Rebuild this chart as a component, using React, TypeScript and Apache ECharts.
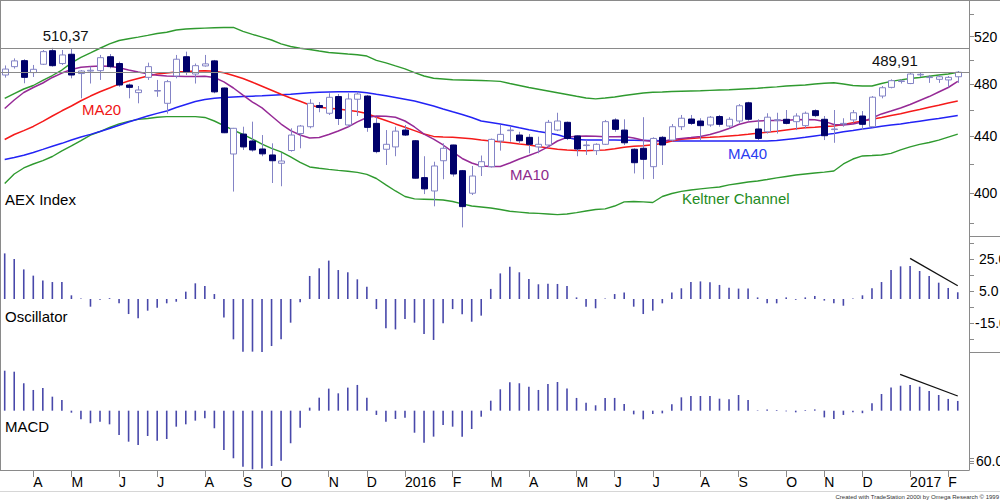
import React, { useEffect, useRef } from "react";
import * as echarts from "echarts";

// Weekly bars (Friday dates)
const weeks = [
  "2015-03-13", "2015-03-20", "2015-03-27", "2015-04-03", "2015-04-10", "2015-04-17", "2015-04-24",
  "2015-05-01", "2015-05-08", "2015-05-15", "2015-05-22", "2015-05-29", "2015-06-05", "2015-06-12",
  "2015-06-19", "2015-06-26", "2015-07-03", "2015-07-10", "2015-07-17", "2015-07-24", "2015-07-31",
  "2015-08-07", "2015-08-14", "2015-08-21", "2015-08-28", "2015-09-04", "2015-09-11", "2015-09-18",
  "2015-09-25", "2015-10-02", "2015-10-09", "2015-10-16", "2015-10-23", "2015-10-30", "2015-11-06",
  "2015-11-13", "2015-11-20", "2015-11-27", "2015-12-04", "2015-12-11", "2015-12-18", "2015-12-25",
  "2016-01-01", "2016-01-08", "2016-01-15", "2016-01-22", "2016-01-29", "2016-02-05", "2016-02-12",
  "2016-02-19", "2016-02-26", "2016-03-04", "2016-03-11", "2016-03-18", "2016-03-25", "2016-04-01",
  "2016-04-08", "2016-04-15", "2016-04-22", "2016-04-29", "2016-05-06", "2016-05-13", "2016-05-20",
  "2016-05-27", "2016-06-03", "2016-06-10", "2016-06-17", "2016-06-24", "2016-07-01", "2016-07-08",
  "2016-07-15", "2016-07-22", "2016-07-29", "2016-08-05", "2016-08-12", "2016-08-19", "2016-08-26",
  "2016-09-02", "2016-09-09", "2016-09-16", "2016-09-23", "2016-09-30", "2016-10-07", "2016-10-14",
  "2016-10-21", "2016-10-28", "2016-11-04", "2016-11-11", "2016-11-18", "2016-11-25", "2016-12-02",
  "2016-12-09", "2016-12-16", "2016-12-23", "2016-12-30", "2017-01-06", "2017-01-13", "2017-01-20",
  "2017-01-27", "2017-02-03", "2017-02-10",
];

// AEX weekly candles: [open, close, low, high]
const ohlc: [number, number, number, number][] = [
  [487.6, 492.5, 485.5, 495.5], [494.5, 499.3, 492.9, 501.4], [499.5, 485.7, 480.9, 500.7], [489.6, 492.3, 486.0, 495.9],
  [496.5, 507.1, 495.9, 508.5], [507.9, 495.3, 494.5, 510.37], [497.1, 504.3, 495.9, 508.5], [504.9, 487.6, 484.9, 509.9],
  [488.8, 490.9, 468.9, 491.7], [490.9, 491.5, 480.7, 494.5], [491.2, 502.0, 483.6, 504.3], [502.8, 494.5, 493.1, 505.1],
  [497.1, 479.5, 478.1, 498.7], [479.5, 477.6, 468.9, 480.7], [473.4, 475.5, 465.0, 478.7], [485.7, 494.5, 483.6, 497.8],
  [474.8, 475.1, 470.1, 483.6], [465.0, 482.2, 457.0, 483.6], [486.8, 500.7, 484.9, 504.3], [502.8, 490.3, 487.6, 507.1],
  [488.4, 495.3, 480.7, 497.1], [495.1, 496.8, 494.5, 504.3], [499.3, 474.0, 472.9, 500.1], [477.1, 442.6, 442.3, 477.5],
  [427.1, 445.9, 401.0, 446.2], [441.6, 432.2, 430.0, 447.1], [436.5, 430.0, 428.8, 450.9], [430.7, 427.2, 425.5, 440.9],
  [426.4, 422.3, 406.8, 434.8], [420.5, 422.1, 404.6, 427.8], [429.6, 440.9, 428.8, 445.9], [442.0, 447.6, 431.2, 448.4],
  [447.1, 465.0, 445.9, 468.2], [463.3, 461.8, 458.1, 466.0], [457.3, 469.7, 456.0, 472.9], [470.3, 453.3, 448.4, 472.3],
  [448.4, 468.4, 447.1, 472.9], [468.2, 472.3, 455.2, 474.2], [470.7, 446.6, 443.3, 471.5], [449.6, 428.8, 427.6, 454.3],
  [430.5, 434.1, 419.3, 444.6], [432.2, 443.8, 425.5, 447.1], [444.6, 440.9, 440.2, 448.4], [436.7, 410.1, 409.9, 437.2],
  [410.5, 402.8, 399.3, 425.5], [401.4, 418.6, 391.2, 421.6], [422.3, 431.2, 409.4, 434.8], [433.6, 413.0, 411.2, 433.8],
  [415.3, 391.0, 377.6, 415.8], [399.9, 411.6, 398.7, 418.6], [418.1, 421.6, 411.6, 426.0], [418.1, 437.7, 417.5, 438.3],
  [436.5, 441.4, 429.5, 448.4], [444.4, 444.6, 436.0, 447.1], [440.9, 436.7, 434.8, 443.3], [439.2, 434.1, 427.6, 441.6],
  [432.2, 434.1, 427.6, 439.7], [433.6, 450.4, 432.2, 452.2], [444.6, 451.4, 443.8, 457.7], [450.4, 438.4, 437.2, 451.0],
  [440.2, 430.7, 425.5, 440.9], [433.4, 433.6, 426.4, 437.2], [429.5, 434.1, 426.4, 434.8], [434.1, 450.9, 433.6, 452.2],
  [452.2, 445.1, 443.3, 453.5], [444.6, 435.2, 433.6, 452.7], [430.5, 420.9, 413.4, 431.2], [431.2, 423.3, 409.4, 454.3],
  [418.1, 438.4, 409.6, 439.2], [439.2, 433.6, 419.3, 440.2], [437.2, 447.1, 436.2, 449.1], [447.1, 453.5, 444.6, 456.0],
  [452.9, 449.6, 448.4, 456.0], [451.4, 447.9, 437.2, 453.5], [448.4, 454.3, 447.1, 455.2], [454.8, 448.9, 447.1, 456.0],
  [447.6, 452.7, 445.9, 454.3], [451.4, 463.1, 449.6, 464.4], [465.4, 452.7, 451.6, 466.2], [445.4, 438.4, 437.2, 452.7],
  [443.3, 454.3, 442.0, 457.3], [452.0, 452.4, 442.0, 457.7], [452.7, 449.6, 448.9, 459.8], [450.9, 455.2, 444.6, 457.3],
  [447.9, 457.3, 445.9, 458.6], [459.3, 455.5, 454.3, 460.3], [452.7, 440.4, 437.2, 455.2], [445.2, 445.4, 435.2, 459.8],
  [449.4, 449.6, 447.1, 453.5], [452.2, 457.7, 450.2, 459.8], [455.2, 448.9, 444.6, 459.0], [447.1, 469.8, 446.6, 470.7],
  [470.7, 477.3, 468.9, 478.7], [477.6, 483.0, 476.8, 484.1], [482.6, 482.8, 480.7, 484.1], [480.7, 488.4, 480.2, 489.8],
  [488.0, 488.2, 486.0, 489.5], [485.8, 486.0, 481.2, 487.6], [484.1, 486.2, 481.2, 487.6], [483.6, 485.7, 477.6, 486.8],
  [486.2, 489.91, 481.2, 490.9],
];

const ma10 = [
  461.0, 467.6, 473.5, 477.5, 481.1, 485.6, 489.2, 492.1, 494.0, 494.6, 495.1, 494.8, 493.6, 491.7, 490.0, 488.6,
  487.4, 486.8, 486.6, 486.4, 486.4, 486.6, 485.6, 482.0, 477.1, 471.5, 466.0, 461.4, 455.2, 449.1, 444.2, 440.9,
  438.7, 439.1, 441.3, 443.9, 446.9, 450.7, 454.1, 455.2, 455.0, 454.3, 451.4, 446.9, 441.6, 437.9, 433.6, 428.6,
  423.9, 420.7, 418.6, 418.2, 418.2, 420.7, 423.5, 426.0, 428.6, 432.2, 436.5, 439.2, 440.0, 440.2, 440.0, 439.7,
  439.6, 439.8, 438.7, 437.0, 436.1, 436.1, 437.6, 438.3, 439.0, 439.8, 441.3, 443.3, 445.7, 448.8, 450.7, 451.4,
  451.7, 451.8, 452.0, 452.4, 452.6, 452.4, 451.1, 448.8, 448.4, 449.2, 450.7, 453.7, 456.8, 459.0, 461.4, 464.1,
  467.2, 470.3, 473.9, 477.5, 482.4,
];

const ma20 = [
  437.6, 441.3, 444.2, 447.3, 451.1, 455.2, 459.2, 462.9, 467.0, 470.7, 474.1, 477.1, 480.2, 482.8, 484.8, 486.8,
  488.4, 489.2, 490.0, 490.4, 490.9, 491.1, 490.7, 489.4, 487.2, 484.8, 481.7, 478.5, 475.3, 472.1, 469.2, 466.6,
  463.7, 462.0, 461.2, 460.5, 459.6, 458.7, 457.1, 454.3, 451.8, 449.2, 446.7, 444.2, 441.6, 439.9, 439.5, 439.2,
  438.7, 438.1, 437.2, 436.5, 435.9, 435.2, 434.3, 433.6, 432.5, 431.4, 430.5, 430.0, 429.6, 429.5, 429.7, 430.0,
  430.9, 432.0, 432.7, 433.0, 433.7, 434.7, 436.5, 437.8, 438.3, 438.9, 439.2, 439.6, 440.2, 440.8, 441.5, 442.3,
  442.9, 443.7, 444.6, 445.5, 446.3, 446.7, 447.2, 447.6, 448.8, 450.1, 451.4, 452.7, 454.0, 455.6, 457.0, 458.6,
  460.2, 461.9, 463.5, 465.2, 466.8,
];

const ma40 = [
  423.2, 424.6, 426.2, 428.2, 430.4, 432.7, 434.8, 437.2, 439.4, 441.4, 443.5, 445.7, 448.2, 450.7, 452.9, 455.2,
  457.2, 459.0, 461.8, 464.1, 466.4, 468.0, 469.0, 469.6, 470.0, 470.3, 470.6, 470.9, 471.3, 471.7, 472.1, 472.7,
  473.3, 473.7, 473.9, 474.1, 474.1, 474.1, 473.4, 472.1, 470.9, 469.6, 468.2, 466.8, 464.9, 462.9, 460.6, 458.4,
  456.4, 454.1, 451.4, 450.3, 449.2, 447.9, 446.3, 444.8, 443.5, 442.4, 441.1, 439.1, 437.6, 437.2, 437.2, 437.2,
  437.2, 437.1, 437.0, 436.8, 436.8, 436.7, 436.6, 436.6, 436.5, 436.5, 436.5, 436.5, 436.5, 436.5, 436.5, 436.5,
  436.5, 436.8, 437.6, 438.4, 439.2, 440.2, 441.2, 442.0, 443.3, 444.3, 445.4, 446.4, 447.4, 448.3, 449.2, 450.2,
  451.3, 452.4, 453.3, 454.4, 455.5,
];

const keltnerUpper = [
  468.8, 472.7, 476.3, 479.1, 483.2, 487.2, 491.7, 497.6, 502.2, 506.0, 510.0, 513.7, 516.7, 518.2, 519.6, 521.1,
  522.8, 523.9, 525.9, 526.8, 527.2, 527.5, 527.8, 528.1, 528.1, 524.6, 522.0, 519.6, 517.1, 513.7, 511.5, 510.0,
  508.9, 507.6, 506.4, 505.8, 505.1, 504.5, 503.4, 499.7, 497.6, 495.1, 492.7, 489.6, 486.8, 485.0, 484.4, 483.8,
  483.6, 483.4, 483.1, 482.8, 482.4, 480.7, 479.1, 477.5, 476.1, 474.7, 473.3, 471.9, 470.5, 469.2, 468.5, 469.2,
  470.0, 471.1, 472.1, 473.1, 473.7, 473.9, 474.3, 474.5, 474.7, 474.9, 475.2, 475.5, 475.7, 476.1, 476.5, 476.9,
  477.5, 478.0, 478.7, 479.1, 479.5, 480.3, 480.9, 481.3, 480.3, 479.1, 478.7, 478.7, 480.7, 482.4, 483.6, 484.8,
  485.6, 486.6, 487.6, 488.4, 489.8,
];

const keltnerLower = [
  406.5, 413.0, 417.2, 420.0, 422.4, 425.3, 429.3, 432.9, 436.8, 440.9, 443.5, 446.5, 449.2, 451.1, 452.6, 453.3,
  454.3, 454.7, 454.7, 454.7, 454.7, 454.1, 451.4, 448.0, 444.6, 441.3, 437.9, 434.3, 431.1, 428.6, 425.0, 421.1,
  417.9, 417.0, 416.2, 415.5, 414.9, 414.1, 412.7, 409.9, 405.5, 401.4, 397.7, 396.1, 395.9, 395.7, 395.4, 394.4,
  392.8, 391.4, 390.8, 390.1, 389.1, 388.0, 387.4, 386.8, 386.6, 386.2, 385.8, 386.2, 387.1, 388.1, 389.1, 389.5,
  391.4, 394.1, 394.4, 394.1, 393.7, 397.7, 399.7, 401.1, 402.1, 402.8, 403.5, 404.1, 405.5, 406.5, 407.5, 408.2,
  409.2, 410.3, 411.3, 412.3, 413.0, 413.7, 414.3, 415.1, 420.0, 423.5, 425.7, 426.0, 426.4, 427.5, 430.0, 432.2,
  434.0, 435.4, 437.2, 439.4, 441.6,
];

const oscillator = [
  28.5, 25, 18.5, 14.6, 11.5, 10.6, 10.6, 2.3, 0.3, -4.8, -0.5, 0.5, -2.7, -9.4, -12.1, -7.3, -5.4, -2.7, -1.7, 4.6,
  9.8, 8.1, 3.1, -11.5, -25.2, -32.9, -32.9, -33.5, -29.4, -25.2, -14.8, -2, 14.4, 19.2, 24, 18.1, 16.7, 12.3, 7.7, -6.3,
  -18.3, -19, -12.5, -14.8, -21.9, -25.6, -15.2, -6.3, -9.6, -14.2, -10.4, 6.3, 16, 20.2, 16.7, 12.5, 9.2, 9.6, 9.4, 8.1,
  1, -4.8, -5.8, 0.3, 3.1, 4, -4.8, -9.4, -7.3, -2.7, 4, 6.7, 10.6, 11, 10.4, 8.8, 7.1, 6.5, 6.5, 1,
  -2.7, -2.7, 1, -0.5, 1, 1.9, -1, -2.7, -4.2, 0.3, 2.3, 6.7, 10.6, 18.1, 20.4, 20.6, 17.5, 14.4, 10.2, 6.9, 4.2,
];

const macd = [
  47.7, 46.5, 32.7, 24.7, 27.1, 16.7, 12.8, -2.4, -10.3, -15, -13.1, -16.3, -29, -37, -40.9, -30.2, -35.8, -33.8, -19.1, -16.3,
  -11.9, -9.1, -21, -46.9, -56.8, -66.8, -70, -69, -66, -59.7, -38.9, -20.3, 3.6, 15.5, 26.3, 20.7, 27.5, 30.7, 15.5, -5.1,
  -13.1, -9.9, -8.4, -26.3, -38.2, -31, -17.1, -19.1, -31, -21.9, -7.2, 11.9, 25.5, 33.9, 32.7, 28.6, 24.7, 31.9, 34.2, 26.3,
  15.2, 9.5, 6.4, 15.2, 15.2, 8, -4.4, -10.3, -4, -3.2, 7.6, 15.9, 17.5, 17.5, 17.5, 14.3, 13.5, 18.7, 12.8, 0.5,
  1.5, 0.8, -0.8, -2, 0.8, 1.5, -8, -9.9, -5.1, -2, -3, 8.8, 19.9, 27.5, 29.8, 30.7, 28.6, 23.5, 18.7, 14, 11.6,
];

// Price levels marked across the chart, and where their captions sit (bar index)
const levels = [510.37, 489.91];
const levelCaptionAt = [6.4, 93.4];

// Divergence trend lines: [bar index, value]
const oscTrend = [[95, 25.4], [100, 8.3]];
const macdTrend = [[93.95, 43.4], [100, 17.5]];

const priceLabels = [400, 440, 480, 520];
const priceTicks = [380, 400, 420, 440, 460, 480, 500, 520, 540];
const oscLabels = [25, 5, -15];
const oscTickValues = [35, 25, 15, 5, -5, -15, -25];
const macdLabels = [-60];
const macdTickValues = [-57, -60, -63];

const MONTH_LETTERS = ["J", "F", "M", "A", "M", "J", "J", "A", "S", "O", "N", "D"];

const FONT = "'Liberation Sans', Arial, sans-serif";
const WICK = "#8484c6";
const NAVY = "#00006a";
const BAR = "#4848aa";
const AXIS = "#8a8a8a";

// first weekly bar of each month and its axis caption
const monthStarts: number[] = [];
const monthCaption: Record<number, string> = {};
weeks.forEach((d, i) => {
  if (i === 0) return;
  const m = Number(d.slice(5, 7));
  const prev = Number(weeks[i - 1].slice(5, 7));
  if (m !== prev) {
    monthStarts.push(i);
    monthCaption[i] = m === 1 ? d.slice(0, 4) : MONTH_LETTERS[m - 1];
  }
});

const X_MIN = -0.493;
const X_MAX = 101.18;

const pairs = (arr: number[]) => arr.map((v, i) => [i, v]);

const renderCandle = (_params: any, api: any) => {
  const i = api.value(0);
  const o = api.value(1);
  const c = api.value(2);
  const l = api.value(3);
  const h = api.value(4);
  const pO = api.coord([i, o]);
  const yC = api.coord([i, c])[1];
  const yL = api.coord([i, l])[1];
  const yH = api.coord([i, h])[1];
  const xc = Math.round(pO[0]) + 0.5;
  const half = 3;
  const top = Math.min(pO[1], yC);
  const bottom = Math.max(pO[1], yC);
  const up = c >= o;
  return {
    type: "group",
    children: [
      { type: "line", shape: { x1: xc, y1: yH, x2: xc, y2: yL }, style: { stroke: WICK, lineWidth: 1 } },
      {
        type: "rect",
        shape: { x: xc - half, y: top, width: half * 2, height: Math.max(bottom - top, 0.6) },
        style: { fill: up ? "#ffffff" : NAVY, stroke: up ? WICK : NAVY, lineWidth: 1 },
      },
    ],
  };
};

const fmtLevel = (v: number) => v.toFixed(2).replace(".", ",");

const lineSeries = (name: string, data: number[], color: string, width = 1.5) => ({
  name,
  type: "line",
  xAxisIndex: 0,
  yAxisIndex: 0,
  data: pairs(data),
  showSymbol: false,
  symbol: "none",
  z: 2,
  lineStyle: { color, width },
});

const label = (text: string, x: number, y: number, color: string) => ({
  type: "text",
  x,
  y,
  silent: true,
  style: { text, fill: color, fontSize: 15, fontFamily: FONT, align: "left", verticalAlign: "middle" },
});

const hline = (x1: number, y: number, x2: number, color = AXIS) => ({
  type: "line",
  silent: true,
  shape: { x1, y1: y, x2, y2: y },
  style: { stroke: color, lineWidth: 1 },
});

const vline = (x: number, y1: number, y2: number, color = AXIS) => ({
  type: "line",
  silent: true,
  shape: { x1: x, y1, x2: x, y2 },
  style: { stroke: color, lineWidth: 1 },
});

const xAxisBase = (gridIndex: number, show: boolean) => ({
  type: "value",
  gridIndex,
  min: X_MIN,
  max: X_MAX,
  show,
  splitLine: { show: false },
  axisLine: { show, onZero: false, lineStyle: { color: AXIS, width: 1 } },
  axisTick: { show, customValues: monthStarts, length: 7, lineStyle: { color: AXIS } },
  axisLabel: {
    show,
    customValues: monthStarts,
    formatter: (v: number) => monthCaption[Math.round(v)] ?? "",
    align: "left",
    margin: 5,
    color: "#000",
    fontSize: 14,
    fontFamily: FONT,
  },
});

const yAxisBase = {
  position: "right",
  splitLine: { show: false },
  axisLine: { show: true, onZero: false, lineStyle: { color: AXIS, width: 1 } },
};

const yLabel = {
  color: "#000",
  fontSize: 14,
  fontFamily: FONT,
  showMinLabel: true,
  showMaxLabel: true,
};

// oscillator scale: digits line up, a minus sign hangs to the left
const oscLabelFormatter = (v: number) => (v < 0 ? `{n|${v.toFixed(1)}}` : `{p|${v.toFixed(1)}}`);

const gridBase = { left: 0, width: 969, outerBoundsMode: "none", containLabel: false };

const option: any = {
  animation: false,
  backgroundColor: "#ffffff",
  grid: [
    { ...gridBase, top: 0, height: 236 },
    { ...gridBase, top: 236, height: 116 },
    { ...gridBase, top: 352, height: 118 },
  ],
  xAxis: [xAxisBase(0, false), xAxisBase(1, false), xAxisBase(2, true)],
  yAxis: [
    {
      ...yAxisBase,
      type: "log",
      logBase: 10,
      gridIndex: 0,
      min: 372.2,
      max: 553.0,
      axisTick: { show: true, customValues: priceTicks, length: 5, lineStyle: { color: AXIS } },
      axisLabel: {
        ...yLabel,
        margin: 5,
        customValues: priceLabels,
        formatter: (v: number) => String(Math.round(v)),
      },
    },
    {
      ...yAxisBase,
      type: "value",
      gridIndex: 1,
      min: -33.125,
      max: 39.375,
      axisTick: { show: true, customValues: oscTickValues, length: 5, lineStyle: { color: AXIS } },
      axisLabel: {
        ...yLabel,
        margin: 6,
        customValues: oscLabels,
        formatter: oscLabelFormatter,
        rich: {
          n: { color: "#000", fontSize: 14, fontFamily: FONT },
          p: { color: "#000", fontSize: 14, fontFamily: FONT, padding: [0, 0, 0, 4] },
        },
      },
    },
    {
      ...yAxisBase,
      type: "value",
      gridIndex: 2,
      min: -70.8,
      max: 70.0,
      axisTick: { show: true, customValues: macdTickValues, length: 5, lineStyle: { color: AXIS } },
      axisLabel: {
        ...yLabel,
        margin: 7,
        customValues: macdLabels,
        formatter: (v: number) => Math.abs(v).toFixed(1),
      },
    },
  ],
  series: [
    lineSeries("Keltner Upper", keltnerUpper, "#2f9a2f", 1.4),
    lineSeries("Keltner Lower", keltnerLower, "#2f9a2f", 1.4),
    lineSeries("MA40", ma40, "#2323f5"),
    lineSeries("MA20", ma20, "#f51a1a"),
    lineSeries("MA10", ma10, "#962a96"),
    {
      name: "AEX Index",
      type: "custom",
      xAxisIndex: 0,
      yAxisIndex: 0,
      z: 3,
      renderItem: renderCandle,
      encode: { x: 0, y: [1, 2, 3, 4] },
      data: ohlc.map((c, i) => [i, c[0], c[1], c[2], c[3]]),
      markLine: {
        silent: true,
        symbol: "none",
        label: { show: false },
        lineStyle: { color: "#8a8a8a", width: 1, type: "solid" },
        data: levels.map((v) => ({ yAxis: v })),
      },
      markPoint: {
        silent: true,
        symbol: "circle",
        symbolSize: 1,
        itemStyle: { color: "rgba(0,0,0,0)" },
        label: {
          show: true,
          position: "top",
          distance: 4,
          color: "#111",
          fontSize: 15,
          fontFamily: FONT,
          formatter: (p: any) => fmtLevel(p.value),
        },
        data: levels.map((v, k) => ({ coord: [levelCaptionAt[k], v], value: v })),
      },
    },
    {
      name: "Oscillator",
      type: "bar",
      xAxisIndex: 1,
      yAxisIndex: 1,
      barWidth: 1.6,
      itemStyle: { color: BAR },
      data: pairs(oscillator),
      markLine: {
        silent: true,
        symbol: "none",
        label: { show: false },
        lineStyle: { color: "#111", width: 1.3, type: "solid" },
        data: [[{ coord: oscTrend[0] }, { coord: oscTrend[1] }]],
      },
    },
    {
      name: "MACD",
      type: "bar",
      xAxisIndex: 2,
      yAxisIndex: 2,
      barWidth: 1.6,
      itemStyle: { color: BAR },
      data: pairs(macd),
      markLine: {
        silent: true,
        symbol: "none",
        label: { show: false },
        lineStyle: { color: "#111", width: 1.3, type: "solid" },
        data: [[{ coord: macdTrend[0] }, { coord: macdTrend[1] }]],
      },
    },
  ],
  graphic: [
    hline(0, 0.5, 1000),
    vline(0.5, 0, 470),
    hline(969, 236.5, 1000),
    hline(969, 352.5, 1000),
    hline(0, 491.5, 1000, "#d6d6d6"),
    label("AEX Index", 5, 199, "#000"),
    label("MA20", 82, 109, "#f01414"),
    label("MA10", 510, 174.5, "#8c2a8c"),
    label("MA40", 728, 153, "#2a3cf0"),
    label("Keltner Channel", 682, 198.5, "#238c23"),
    label("Oscillator", 5, 316, "#000"),
    label("MACD", 5, 426, "#000"),
    {
      type: "text",
      x: 999,
      y: 497,
      silent: true,
      style: {
        text: "Created with TradeStation 2000i by Omega Research \u00a9 1999",
        fill: "#333",
        fontSize: 6,
        fontFamily: FONT,
        align: "right",
        verticalAlign: "middle",
      },
    },
  ],
};

export default function App() {
  const ref = useRef<HTMLDivElement>(null);
  useEffect(() => {
    if (!ref.current) return;
    const chart = echarts.init(ref.current, undefined, { renderer: "svg" });
    chart.setOption(option);
    return () => chart.dispose();
  }, []);
  return (
    <div
      ref={ref}
      style={{ position: "fixed", left: 0, top: 0, width: 1000, height: 500, background: "#fff" }}
    />
  );
}
